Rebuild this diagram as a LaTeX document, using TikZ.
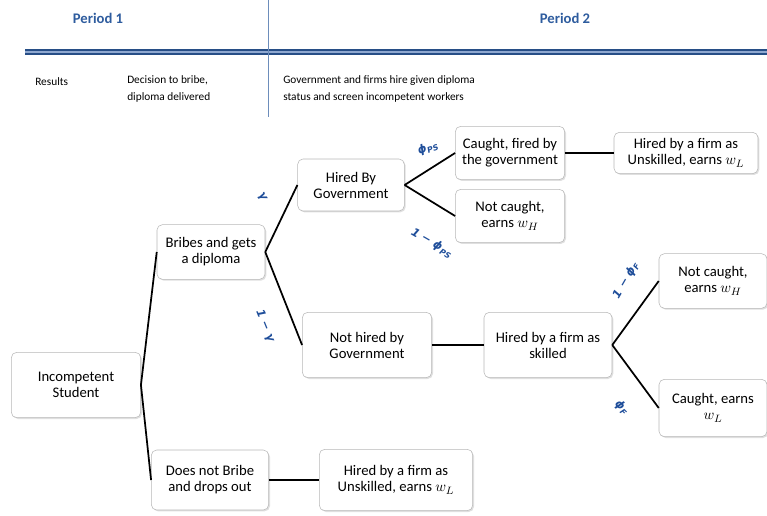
\documentclass[tikz,border=0pt]{standalone}
\usepackage{amsmath}
\usepackage{fontspec}
\setmainfont{Carlito}
\newfontfamily\probfont{DejaVu Sans}
\usetikzlibrary{shadows}

\definecolor{hdrblue}{HTML}{2E5C9E}
\definecolor{lblblue}{HTML}{1F4E9A}
\definecolor{rulelight}{HTML}{8FA8D0}
\definecolor{boxgray}{HTML}{B8B8B8}

\begin{document}
\begin{tikzpicture}[
    x=0.75pt, y=-0.75pt,
    box/.style={draw=boxgray, fill=white, rounded corners=4pt, align=center,
                inner sep=2pt, font=\fontsize{11}{12}\selectfont,
                drop shadow={opacity=0.25, shadow xshift=1pt, shadow yshift=-1pt}},
    hdr/.style={font=\fontsize{11}{12}\selectfont\bfseries, text=hdrblue},
    info/.style={font=\fontsize{8.5}{12.75}\selectfont, align=left, inner sep=0pt},
    prob/.style={text=lblblue, inner sep=1pt,
                 font=\probfont\bfseries\itshape\fontsize{8.5}{10}\selectfont},
    edge/.style={line width=1.3pt},
  ]
  \useasboundingbox (0,0) rectangle (767,516);

  %% ---- period header ---------------------------------------------
  \node[hdr] (p1) at ( 98,18) {Period 1};
  \node[hdr] (p2) at (565,18) {Period 2};

  \draw[line width=4.5pt, hdrblue!85!black] (25,52) -- (767,52);
  \draw[line width=1.4pt, rulelight] (25,52) -- (767,52);
  \draw[hdrblue!70, line width=0.6pt] (268,0) -- (268,117);

  \node[info, anchor=west] (res) at (35,82) {Results};
  \node[info, anchor=north west] (dec) at (127,75)
  {Decision to bribe,\\diploma delivered};
  \node[info, anchor=north west] (hire) at (283,75)
  {Government and firms hire given diploma\\status and screen incompetent workers};

  %% ---- period 1 ---------------------------------------------------
  \node[box, minimum width=97pt, minimum height=49pt] (stud) at ( 76,385) {Incompetent\\Student};
  \node[box, minimum width=81pt, minimum height=41pt] (bribe) at (211,252) {Bribes and gets\\a diploma};
  \node[box, minimum width=88pt, minimum height=45pt] (drop) at (210,480) {Does not Bribe\\and drops out};

  \draw[edge] (stud.east) -- (bribe.west);
  \draw[edge] (stud.east) -- (drop.west);

  %% ---- government branch -------------------------------------------
  \node[box, minimum width=80pt, minimum height=39pt] (gov) at (351,185) {Hired By\\Government};
  \node[box, minimum width=97pt, minimum height=49pt] (nogov) at (367,345) {Not hired by\\Government};

  \draw[edge] (bribe.east) -- (gov.west);
  \draw[edge] (bribe.east) -- (nogov.west);
  \node[prob, rotate=-60] (g1) at (262,197) {γ};
  \node[prob, rotate=-68] (g2) at (265,326) {1 − γ};

  \node[box, minimum width=82pt, minimum height=40pt] (fired) at (510,153) {Caught, fired by\\the government};
  \node[box, minimum width=82pt, minimum height=40pt] (keep) at (510,216) {Not caught,\\earns $w_H$};
  \node[box, minimum width=108pt, minimum height=31pt] (unsk1) at (686,153) {Hired by a firm as\\Unskilled, earns $w_L$};

  \draw[edge] (gov.east) -- (fired.west);
  \draw[edge] (gov.east) -- (keep.west);
  \draw[edge] (fired.east) -- (unsk1.west);
  \node[prob, rotate=20] (ps1) at (428,148) {ϕ\textsubscript{PS}};
  \node[prob, rotate=-30] (ps2) at (432,243) {1 − ϕ\textsubscript{PS}};

  %% ---- firm branch -------------------------------------------------
  \node[box, minimum width=96pt, minimum height=49pt] (skill) at (548,345) {Hired by a firm as\\skilled};
  \node[box, minimum width=81pt, minimum height=41pt] (keepF) at (713,281) {Not caught,\\earns $w_H$};
  \node[box, minimum width=81pt, minimum height=43pt] (caughtF) at (713,408) {Caught, earns\\$w_L$};

  \draw[edge] (nogov.east) -- (skill.west);
  \draw[edge] (skill.east) -- (keepF.west);
  \draw[edge] (skill.east) -- (caughtF.west);
  \node[prob, rotate=60] (f1) at (626,280) {1 − ϕ\textsubscript{F}};
  \node[prob, rotate=-45] (f2) at (622,408) {ϕ\textsubscript{F}};

  %% ---- drop-out branch ---------------------------------------------
  \node[box, minimum width=115pt, minimum height=46pt] (unsk2) at (396,480) {Hired by a firm as\\Unskilled, earns $w_L$};
  \draw[edge] (drop.east) -- (unsk2.west);

\end{tikzpicture}
\end{document}
